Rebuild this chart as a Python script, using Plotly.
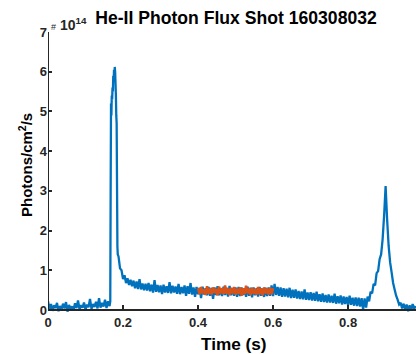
import numpy as np
import plotly.graph_objects as go

# ---- data (units of 1e14 photons/cm^2/s) ----
step = 0.004

baseline_t0 = 0.0
baseline_vals = [
    0.22, 0.02, 0.15, -0.02, 0.12, 0.05, 0.18, -0.03, 0.10, 0.01,
    0.16, 0.04, 0.20, -0.04, 0.13, 0.03, 0.09, 0.00, 0.17, 0.05,
    0.24, 0.02, 0.12, 0.06, 0.19, 0.01, 0.14, 0.07, 0.28, 0.03,
    0.15, 0.08, 0.21, 0.04, 0.30, 0.06, 0.18, 0.09, 0.26, 0.05,
    0.22, 0.10,
]

spike_t = [0.166, 0.167, 0.168, 0.169, 0.170, 0.171, 0.172, 0.173, 0.174, 0.175,
           0.176, 0.177, 0.178, 0.179, 0.180, 0.181, 0.182, 0.183, 0.184, 0.185, 0.186]
spike_vals = [0.22, 3.00, 5.20, 4.90, 5.40, 5.30, 5.60, 5.50, 5.90, 5.75,
              6.05, 5.85, 6.12, 6.00, 5.70, 5.40, 4.90, 4.70, 3.20, 1.60, 1.40]

decay_t0 = 0.188
decay_vals = [
    1.35, 1.05, 1.00, 0.78, 0.88, 0.68, 0.80, 0.63, 0.76, 0.60,
    0.74, 0.55, 0.72, 0.53, 0.78, 0.52, 0.67, 0.50, 0.66, 0.49,
    0.68, 0.47, 0.64, 0.44, 0.75, 0.46, 0.63, 0.45, 0.62, 0.40,
    0.64, 0.44, 0.60, 0.43, 0.70, 0.42, 0.61, 0.44, 0.59, 0.41,
    0.66, 0.40, 0.58, 0.42, 0.62, 0.36, 0.60, 0.41, 0.68, 0.39,
    0.57, 0.33, 0.58, 0.40, 0.56, 0.30, 0.59, 0.39, 0.55, 0.37,
    0.58, 0.36, 0.56, 0.28, 0.57, 0.38, 0.60, 0.37, 0.55, 0.35,
    0.59, 0.38, 0.56, 0.34, 0.61, 0.37, 0.55, 0.36, 0.57, 0.33,
    0.58, 0.35, 0.57, 0.38, 0.55, 0.33, 0.59, 0.36, 0.56, 0.32,
    0.57, 0.37, 0.55, 0.34, 0.58, 0.36, 0.54, 0.33, 0.56, 0.35,
    0.57, 0.36, 0.62, 0.35, 0.66, 0.38, 0.58, 0.36, 0.57, 0.33,
    0.55, 0.34, 0.54, 0.32, 0.56, 0.30, 0.51, 0.31, 0.52, 0.29,
    0.48, 0.28, 0.47, 0.27, 0.52, 0.26, 0.44, 0.25, 0.45, 0.24,
    0.43, 0.23, 0.46, 0.22, 0.40, 0.21, 0.42, 0.20, 0.38, 0.19,
    0.39, 0.19, 0.36, 0.18, 0.41, 0.16, 0.35, 0.17, 0.37, 0.14,
    0.34, 0.15, 0.33, 0.12, 0.36, 0.13, 0.31, 0.11, 0.32, 0.10,
    0.31, 0.09, 0.30, 0.01, 0.29, 0.06, 0.34, 0.22, 0.46, 0.42,
    0.66, 0.62, 0.93, 0.98, 1.28, 1.40, 1.78, 2.38, 3.12, 2.28,
    1.62, 1.20, 0.95, 0.68, 0.52, 0.36, 0.26, 0.14, 0.18, 0.04,
    0.16, 0.02, 0.14, -0.03, 0.12, 0.00, 0.15, 0.03, 0.10,
]

fit_t0 = 0.400
fit_vals = [
    0.55, 0.40, 0.58, 0.42, 0.52, 0.38, 0.60, 0.41, 0.54, 0.39,
    0.57, 0.43, 0.53, 0.37, 0.59, 0.42, 0.55, 0.40, 0.62, 0.41,
    0.54, 0.38, 0.56, 0.42, 0.58, 0.39, 0.53, 0.41, 0.57, 0.36,
    0.55, 0.40, 0.61, 0.42, 0.54, 0.38, 0.56, 0.41, 0.53, 0.39,
    0.58, 0.40, 0.55, 0.37, 0.57, 0.42, 0.54, 0.39, 0.56, 0.40,
    0.55,
]

x_ticks = [0, 0.2, 0.4, 0.6, 0.8]
x_tick_text = ["0", "0.2", "0.4", "0.6", "0.8"]
y_ticks = [0, 1, 2, 3, 4, 5, 6, 7]

# ---- assemble series ----
t_blue = np.concatenate([
    baseline_t0 + step * np.arange(len(baseline_vals)),
    np.array(spike_t),
    decay_t0 + step * np.arange(len(decay_vals)),
])
v_blue = np.concatenate([baseline_vals, spike_vals, decay_vals])
t_org = fit_t0 + step * np.arange(len(fit_vals))

BLUE = "#0072BD"
ORANGE = "#D95319"
AX = "#262626"
FONT = "Liberation Sans, Arial, sans-serif"

Y_LO, Y_HI = -0.15, 7.0
X_HI = 0.981
zero_pos = (0 - Y_LO) / (Y_HI - Y_LO)
PX_PER_UNIT = 278 / 7.0

fig = go.Figure()
fig.add_trace(go.Scatter(x=t_blue, y=v_blue, mode="lines",
                         line=dict(color=BLUE, width=2.3, simplify=False), showlegend=False))
fig.add_trace(go.Scatter(x=t_org, y=fit_vals, mode="lines",
                         line=dict(color=ORANGE, width=2.5, simplify=False), showlegend=False))

fig.update_layout(
    width=416, height=354,
    margin=dict(l=48, r=0, t=32, b=38),
    paper_bgcolor="white", plot_bgcolor="white",
    font=dict(family=FONT, color=AX, size=12),
    title=dict(text="<b>He-II Photon Flux Shot 160308032</b>",
               x=236 / 416, xanchor="center", y=1 - 18 / 354, yanchor="middle",
               font=dict(size=17.6, color="black", family=FONT)),
)
fig.update_xaxes(
    range=[0, X_HI], tickvals=x_ticks, ticktext=[f"<b>{s}</b>" for s in x_tick_text],
    anchor="free", position=zero_pos, automargin=False,
    showgrid=False, zeroline=False, showline=True, linecolor=AX, linewidth=2,
    ticks="inside", ticklen=4, tickwidth=1.5, tickcolor=AX,
    tickfont=dict(size=13, color=AX, family=FONT),
)
fig.update_yaxes(
    range=[Y_LO, Y_HI], tickvals=y_ticks, ticktext=[f"<b>{v}</b>" for v in y_ticks],
    automargin=False,
    showgrid=False, zeroline=False, showline=False,
    ticks="inside", ticklen=4, tickwidth=1.5, tickcolor=AX,
    tickfont=dict(size=13, color=AX, family=FONT),
)
# y axis line from 0 to top
fig.add_shape(type="line", xref="x", yref="y", x0=0, x1=0, y0=0, y1=Y_HI,
              line=dict(color=AX, width=2), layer="above")

# axis titles
fig.add_annotation(x=234 / 368 - 48 / 368, y=0, xref="paper", yref="paper", xanchor="center", yanchor="middle",
                   yshift=-(344 - 316), showarrow=False, text="<b>Time (s)</b>",
                   font=dict(size=17.2, color="black", family=FONT))
y_title_pos = ((310 - 165) / PX_PER_UNIT - Y_LO) / (Y_HI - Y_LO)
fig.add_annotation(x=0, y=y_title_pos,
                   xref="paper", yref="paper", xanchor="center", yanchor="middle",
                   xshift=-(48 - 25), showarrow=False, textangle=-90,
                   text="<b>Photons/cm<sup>2</sup>/s</b>",
                   font=dict(size=15, color="black", family=FONT))
# exponent label
fig.add_annotation(x=0, y=1.0, xref="paper", yref="paper", xanchor="left", yanchor="bottom",
                   xshift=1, yshift=-3, showarrow=False,
                   text="<span style='font-size:9px'>#</span> <b>10<sup>14</sup></b>",
                   font=dict(size=14, color=AX, family=FONT))

fig.write_html("out.html", config={"displayModeBar": False},
               post_script="document.body.style.margin='0px';document.body.style.overflow='hidden';")
